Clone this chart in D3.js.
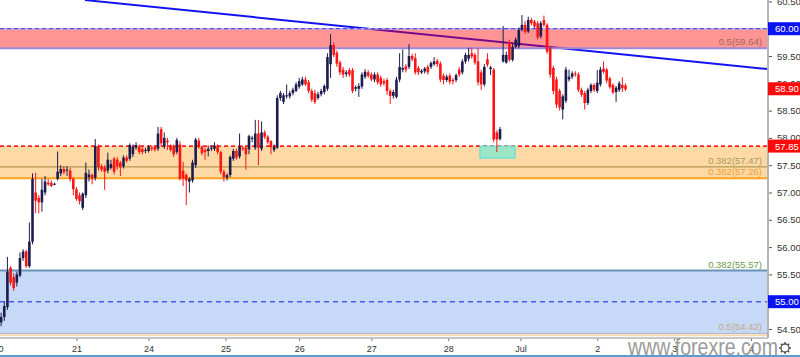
<!DOCTYPE html>
<html><head><meta charset="utf-8">
<script src="https://cdn.jsdelivr.net/npm/d3@7"></script>
<style>html,body{margin:0;padding:0;background:#fff;}svg{display:block;font-family:"Liberation Sans",Arial,sans-serif;}</style>
</head><body><svg id="c" width="800" height="357"></svg>
<script>
// ---- data ----
const opens = [54.62,54.72,54.90,55.62,55.45,55.35,55.48,55.80,55.92,55.65,
56.10,57.00,56.90,56.82,57.00,57.18,57.18,57.15,57.25,57.35,
57.43,57.40,57.40,57.25,57.06,56.95,56.72,56.95,57.28,57.32,
57.27,57.85,57.48,57.46,57.40,57.45,57.62,57.60,57.55,57.48,
57.64,57.62,57.70,57.82,57.84,57.80,57.76,57.76,57.82,57.84,
57.80,58.16,57.84,57.95,57.84,57.86,57.74,57.88,57.40,57.32,
57.20,57.22,57.50,57.95,57.84,57.78,57.76,57.80,57.80,57.86,
57.74,57.38,57.27,57.32,57.62,57.76,57.66,57.82,57.82,57.79,
57.98,57.82,58.08,57.80,58.10,58.02,57.94,57.78,57.82,58.73,
58.66,58.76,58.76,58.82,58.86,58.94,58.98,59.07,59.02,58.86,
58.82,58.73,58.80,58.84,58.90,59.35,59.70,59.56,59.38,59.25,
59.17,59.24,59.24,58.90,58.90,58.94,59.12,59.20,59.16,59.07,
59.16,59.10,59.04,59.06,58.86,58.77,58.75,59.07,59.25,59.31,
59.30,59.50,59.46,59.28,59.20,59.22,59.30,59.30,59.35,59.41,
59.36,59.14,59.06,59.14,59.06,59.06,59.25,59.20,59.40,59.45,
59.55,59.52,59.40,59.20,58.98,59.44,59.26,59.25,58.10,57.98,
59.40,59.38,59.75,59.43,59.67,59.68,59.98,60.07,59.95,60.16,
60.13,60.10,59.86,60.16,60.07,59.64,59.28,59.07,58.86,58.52,
58.68,59.07,59.12,59.18,59.16,58.88,58.82,58.64,58.86,58.97,
58.86,58.98,59.27,59.25,59.09,58.97,58.84,58.88,58.97,58.96];
const highs = [54.80,55.00,55.82,55.65,55.52,55.55,55.90,55.96,55.95,56.45,
57.35,57.36,56.95,57.25,57.30,57.25,57.22,57.18,57.75,57.50,
57.48,57.48,57.45,57.28,57.10,57.00,57.00,57.55,57.42,57.35,
57.98,57.88,57.52,57.50,57.73,57.60,57.65,57.65,57.58,57.68,
57.68,57.90,57.88,57.92,57.88,57.84,57.82,57.86,57.86,57.86,
58.20,58.20,58.10,58.00,57.88,57.88,58.00,57.94,57.56,57.35,
57.28,57.60,58.00,58.00,57.86,57.82,57.86,57.86,57.92,57.88,
57.76,57.42,57.35,57.68,57.80,57.80,58.08,57.86,57.85,58.06,
58.04,58.33,58.33,58.30,58.14,58.05,57.96,57.88,58.78,58.86,
58.82,58.98,58.86,58.92,59.02,59.10,59.12,59.12,59.06,58.90,
58.88,58.84,58.90,58.98,59.55,59.90,59.75,59.60,59.42,59.30,
59.24,59.28,59.28,58.96,59.00,59.20,59.26,59.24,59.20,59.20,
59.20,59.14,59.08,59.10,58.90,58.88,59.12,59.55,59.62,59.35,
59.72,59.54,59.55,59.32,59.26,59.30,59.34,59.40,59.48,59.45,
59.40,59.18,59.16,59.18,59.10,59.18,59.30,59.44,59.56,59.65,
59.65,59.56,59.64,59.25,59.35,59.55,59.32,59.28,58.14,58.20,
60.05,59.58,59.80,59.72,59.84,60.02,60.25,60.14,60.22,60.20,
60.16,60.14,60.14,60.24,60.10,59.68,59.32,59.12,58.90,58.80,
59.30,59.25,59.22,59.22,59.20,58.92,58.86,58.92,59.00,59.00,
59.24,59.30,59.40,59.28,59.12,59.00,58.95,59.04,59.11,59.00];
const lows = [54.55,54.65,54.85,55.30,55.20,55.28,55.45,55.75,55.62,55.62,
56.05,56.62,56.62,56.65,56.95,57.12,57.10,57.13,57.22,57.30,
57.33,57.30,57.20,56.95,56.85,56.78,56.68,56.90,57.20,57.15,
57.22,57.40,57.38,57.05,57.35,57.42,57.33,57.42,57.30,57.44,
57.55,57.58,57.65,57.78,57.70,57.70,57.72,57.73,57.76,57.75,
57.76,57.85,57.80,57.78,57.75,57.65,57.70,57.22,57.12,56.77,
57.00,57.18,57.45,57.80,57.68,57.60,57.66,57.76,57.76,57.70,
57.33,57.20,57.22,57.28,57.58,57.60,57.62,57.76,57.42,57.70,
57.92,57.78,57.50,57.76,57.98,57.88,57.70,57.74,57.80,58.68,
58.62,58.72,58.72,58.78,58.84,58.90,58.95,58.95,58.82,58.66,
58.62,58.70,58.76,58.80,58.86,59.10,59.48,59.30,59.15,59.10,
59.12,59.12,58.82,58.85,58.75,58.90,59.08,59.10,59.04,59.02,
58.98,58.94,58.96,58.79,58.62,58.72,58.72,59.02,59.20,59.20,
59.26,59.40,59.16,59.15,59.17,59.18,59.16,59.26,59.32,59.30,
59.02,58.98,59.02,58.98,58.98,59.02,59.12,59.16,59.36,59.40,
59.45,59.34,58.96,58.88,58.94,59.30,59.15,57.92,57.74,57.95,
59.38,59.36,59.40,59.40,59.64,59.64,59.95,59.90,59.92,60.06,
60.00,59.80,59.82,60.03,59.54,59.10,58.80,58.55,58.50,58.34,
58.64,59.03,59.08,59.12,58.84,58.75,58.52,58.60,58.82,58.84,
58.82,58.94,59.18,59.00,58.90,58.80,58.66,58.84,58.84,58.86];
const closes = [54.72,54.92,55.55,55.35,55.25,55.50,55.80,55.92,55.65,56.10,
57.25,56.85,56.82,57.05,57.20,57.15,57.12,57.16,57.38,57.43,
57.37,57.42,57.25,57.06,56.88,56.84,56.98,57.36,57.33,57.25,
57.85,57.46,57.42,57.38,57.60,57.52,57.38,57.48,57.46,57.64,
57.58,57.87,57.84,57.87,57.74,57.74,57.78,57.83,57.80,57.78,
58.08,57.90,58.00,57.92,57.78,57.70,57.96,57.25,57.26,57.22,
57.25,57.55,57.97,57.83,57.72,57.74,57.80,57.82,57.86,57.74,
57.38,57.28,57.32,57.65,57.76,57.64,57.84,57.80,57.70,58.03,
58.00,58.08,57.82,58.10,58.02,57.92,57.83,57.84,58.73,58.82,
58.78,58.78,58.82,58.88,58.98,59.04,59.07,58.98,58.86,58.70,
58.66,58.80,58.86,58.95,59.48,59.70,59.52,59.36,59.20,59.16,
59.20,59.16,58.86,58.93,58.95,59.16,59.21,59.14,59.07,59.16,
59.02,58.98,59.00,58.86,58.77,58.84,59.07,59.30,59.28,59.25,
59.50,59.44,59.20,59.20,59.23,59.27,59.20,59.37,59.40,59.35,
59.07,59.06,59.12,59.03,59.04,59.15,59.16,59.40,59.52,59.52,
59.49,59.38,59.02,58.98,59.30,59.34,59.29,57.97,57.97,58.16,
59.52,59.52,59.43,59.67,59.80,59.98,60.07,59.94,60.16,60.10,
60.04,59.84,60.10,60.07,59.58,59.16,58.86,58.61,58.56,58.76,
59.25,59.12,59.18,59.16,58.88,58.79,58.64,58.88,58.97,58.88,
59.01,59.25,59.21,59.05,58.93,58.83,58.92,59.00,58.91,58.89];

const dayLabels = ["20","21","24","25","26","27","28","Jul","2","3","4"];
const dayHours  = [0,25,48,72.5,96,119,143.5,166.5,191,215.5,240];
const priceTicks = [54.5,55,55.5,56,56.5,57,57.5,58,58.5,59,59.5,60,60.5];

const redZone = [59.64, 60.00];
const orangeZone = [57.26, 57.85];
const blueZone = [54.42, 55.57];
const fibLabels = [
  {v:59.64, t:"0.5(59.64)", c:"#a0685a"},
  {v:57.47, t:"0.382(57.47)", c:"#a89a58"},
  {v:57.26, t:"0.382(57.26)", c:"#f0a030"},
  {v:55.57, t:"0.382(55.57)", c:"#6a9e48"},
  {v:54.42, t:"0.5(54.42)", c:"#c8a888"}
];
const trendHours = [27.7, 245.4];
const trendPrices = [60.525, 59.26];
const supportBoxHours = [153.6, 164.8];
const supportBoxPrices = [57.63, 57.85];
const priceTags = [
  {v:60.00, c:"#0a14f0"},
  {v:58.90, c:"#ff0a0a"},
  {v:57.85, c:"#ff0a0a"},
  {v:55.00, c:"#0a14f0"}
];

// ---- chart ----
const svg = d3.select("#c");
const W = 768, H = 338;
const x = d3.scaleLinear().domain([0,240]).range([-2,751]);
const y = d3.scaleLinear().domain([54.5,60.5]).range([329,1.4]);

svg.append("rect").attr("width",800).attr("height",357).attr("fill","#fff");
const plot = svg.append("g");
const clip = svg.append("clipPath").attr("id","pc");
clip.append("rect").attr("x",0).attr("y",0).attr("width",W).attr("height",H);
plot.attr("clip-path","url(#pc)");

// zones
plot.append("rect").attr("x",0).attr("width",W)
  .attr("y",y(orangeZone[1])).attr("height",y(orangeZone[0])-y(orangeZone[1])).attr("fill","#fed9a6");
plot.append("rect").attr("x",0).attr("width",W)
  .attr("y",y(blueZone[1])).attr("height",y(blueZone[0])-y(blueZone[1])).attr("fill","#c6d9f6");

// trend line
plot.append("line")
  .attr("x1",x(trendHours[0])).attr("y1",y(trendPrices[0]))
  .attr("x2",x(trendHours[1])).attr("y2",y(trendPrices[1]))
  .attr("stroke","#1212f2").attr("stroke-width",2);

// red zone (translucent)
plot.append("rect").attr("x",0).attr("width",W)
  .attr("y",y(redZone[1])).attr("height",y(redZone[0])-y(redZone[1]))
  .attr("fill","rgba(255,0,0,0.42)");

function hline(v,color,w,dash){
  const l = plot.append("line").attr("x1",0).attr("x2",W)
    .attr("y1",y(v)).attr("y2",y(v)).attr("stroke",color).attr("stroke-width",w);
  if(dash) l.attr("stroke-dasharray",dash);
}
hline(redZone[1],"#b4aef0",1.5);
hline(redZone[1],"#3a3af0",1,"4,3");
hline(redZone[0],"#a088d8",2);
hline(57.47,"#b09a50",1.2);
hline(orangeZone[0],"#ffa21e",2);
hline(orangeZone[1],"#ff2020",1.6,"4,3");
hline(blueZone[1],"#6a94b8",2);
hline(55.00,"#4a5cf0",1.4,"5,4");
hline(blueZone[0],"#a9b4c8",1);
plot.append("line").attr("x1",0).attr("x2",W).attr("y1",y(blueZone[0])+2).attr("y2",y(blueZone[0])+2)
  .attr("stroke","#f8d8b0").attr("stroke-width",2);

// support box
plot.append("rect")
  .attr("x",x(supportBoxHours[0])).attr("width",x(supportBoxHours[1])-x(supportBoxHours[0]))
  .attr("y",y(supportBoxPrices[1])).attr("height",y(supportBoxPrices[0])-y(supportBoxPrices[1]))
  .attr("fill","#9ce6c6").attr("stroke","#4de0e0").attr("stroke-width",1);

// candles
const candles = opens.map((o,i)=>({h:i+1,o,hi:highs[i],lo:lows[i],c:closes[i]}));
const up = "#1c1c4e", dn = "#ff1414";
const cg = plot.append("g");
cg.selectAll("line.w").data(candles).join("line")
  .attr("x1",d=>x(d.h)).attr("x2",d=>x(d.h))
  .attr("y1",d=>y(d.hi)).attr("y2",d=>y(d.lo))
  .attr("stroke",d=>d.c>=d.o?up:dn).attr("stroke-width",1);
cg.selectAll("rect.b").data(candles).join("rect")
  .attr("x",d=>x(d.h)-1.3).attr("width",2.6)
  .attr("y",d=>y(Math.max(d.o,d.c)))
  .attr("height",d=>Math.max(1,Math.abs(y(d.o)-y(d.c))))
  .attr("fill",d=>d.c>=d.o?up:dn);

// fib labels
plot.selectAll("text.fib").data(fibLabels).join("text")
  .attr("x",762).attr("y",d=>y(d.v)-3).attr("text-anchor","end")
  .attr("font-size",9.5).attr("fill",d=>d.c).text(d=>d.t);

// axes
const ya = svg.append("g").attr("transform",`translate(${W},0)`)
  .call(d3.axisRight(y).tickValues(priceTicks).tickSize(4).tickPadding(5).tickFormat(d3.format(".2f")));
ya.select(".domain").remove();
ya.selectAll("line").attr("stroke","#555");
ya.selectAll("text").attr("font-size",9.5).attr("fill","#333").attr("font-family","Liberation Sans, Arial");

const xa = svg.append("g").attr("transform",`translate(0,${H})`)
  .call(d3.axisBottom(x).tickValues(dayHours).tickSize(3).tickPadding(5).tickFormat((d,i)=>dayLabels[i]));
xa.select(".domain").remove();
xa.selectAll("line").attr("stroke","#777");
xa.selectAll("text").attr("font-size",9).attr("fill","#333").attr("font-family","Liberation Sans, Arial");

svg.append("line").attr("x1",W).attr("x2",W).attr("y1",0).attr("y2",H).attr("stroke","#b4b4b4").attr("stroke-width",2);
svg.append("line").attr("x1",0).attr("x2",W).attr("y1",H).attr("y2",H).attr("stroke","#b4b4b4").attr("stroke-width",1.5);

// price tags
const tg = svg.selectAll("g.tag").data(priceTags).join("g").attr("transform",d=>`translate(${W},${y(d.v)})`);
tg.append("rect").attr("x",0).attr("y",-6.5).attr("width",32).attr("height",13).attr("fill",d=>d.c);
tg.append("text").attr("x",7).attr("y",3.5).attr("font-size",9.5).attr("fill","#fff")
  .text(d=>d3.format(".2f")(d.v));

// watermark
svg.append("text").attr("x",628).attr("y",355).attr("font-size",24).attr("fill","#8a8a8a").attr("opacity",0.85)
  .attr("textLength",150).attr("lengthAdjust","spacingAndGlyphs").text("www.forexre.com");

// gear icon
const gear = svg.append("g").attr("transform","translate(785,348)");
d3.range(8).forEach(k=>{
  const a = k*Math.PI/4;
  gear.append("line").attr("x1",Math.cos(a)*3.5).attr("y1",Math.sin(a)*3.5)
    .attr("x2",Math.cos(a)*6).attr("y2",Math.sin(a)*6).attr("stroke","#555").attr("stroke-width",1.5);
});
gear.append("circle").attr("r",4).attr("fill","#fff").attr("stroke","#555").attr("stroke-width",1.3);

// bottom border
svg.append("rect").attr("x",0).attr("y",355).attr("width",800).attr("height",2).attr("fill","#5b9bd5");
</script></body></html>
